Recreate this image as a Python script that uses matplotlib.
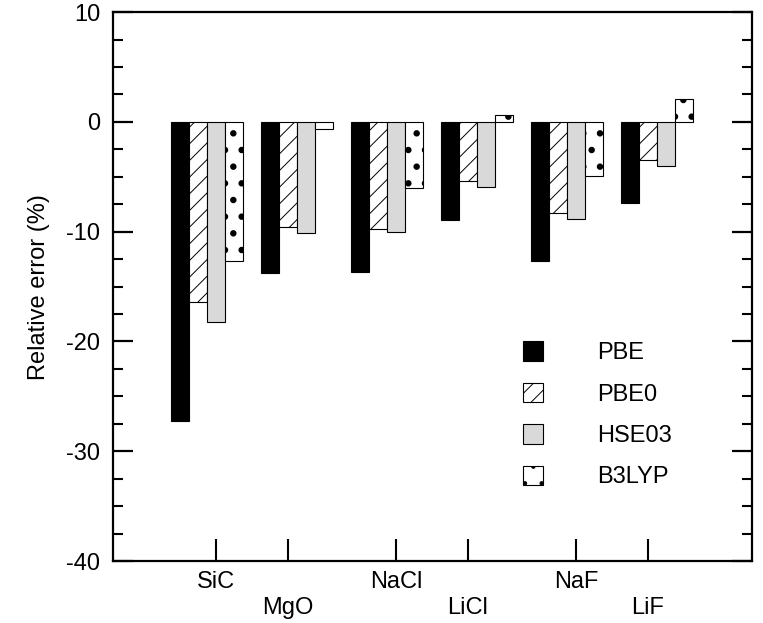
import matplotlib.pyplot as plt
import numpy as np
from matplotlib.ticker import MultipleLocator, FixedLocator, FixedFormatter

plt.rcParams['font.family'] = ['Liberation Sans', 'DejaVu Sans']
plt.rcParams['hatch.linewidth'] = 0.7

# data (relative error, %)
compounds = ["SiC", "MgO", "NaCl", "LiCl", "NaF", "LiF"]
methods = ["PBE", "PBE0", "HSE03", "B3LYP"]
pbe = [-27.2, -13.8, -13.7, -8.9, -12.7, -7.4]
pbe0 = [-16.4, -9.6, -9.8, -5.4, -8.3, -3.5]
hse03 = [-18.2, -10.1, -10.0, -5.9, -8.8, -4.0]
b3lyp = [-12.7, -0.6, -6.0, 0.6, -4.9, 2.1]

# label rows (staggered tick labels)
top_labels = ["SiC", "NaCl", "NaF"]
bottom_labels = ["MgO", "LiCl", "LiF"]
top_ticks = [0.1, 2.1, 4.1]
bottom_ticks = [0.9, 2.9, 4.9]

fs = 17

fig = plt.figure(figsize=(7.63, 6.23), dpi=100)
ax = fig.add_axes([0.148, 0.0995, 0.8375, 0.881])

x = np.arange(len(compounds))
w = 0.2
styles = [
    dict(color="black", edgecolor="black"),
    dict(color="white", edgecolor="black", hatch="//"),
    dict(color="#d9d9d9", edgecolor="black"),
    dict(color="white", edgecolor="black", hatch="."),
]
series = [pbe, pbe0, hse03, b3lyp]
for i, (vals, st, name) in enumerate(zip(series, styles, methods)):
    bars = ax.bar(x - 0.3 + i * w, vals, w, linewidth=0.8, label=name, **st)
    if name == "B3LYP":
        for b in bars:
            if hasattr(b, "set_hatch_linewidth"):
                b.set_hatch_linewidth(2.2)

ax.set_xlim(-1.044, 6.056)
ax.set_ylim(-40, 10)
ax.yaxis.set_minor_locator(MultipleLocator(2.5))
ax.set_yticks([-40, -30, -20, -10, 0, 10])
ax.set_yticklabels(["-40", "-30", "-20", "-10", "0", "10"])

ax.xaxis.set_major_locator(FixedLocator(top_ticks))
ax.xaxis.set_major_formatter(FixedFormatter(top_labels))
ax.xaxis.set_minor_locator(FixedLocator(bottom_ticks))
ax.xaxis.set_minor_formatter(FixedFormatter(bottom_labels))

ax.tick_params(axis="y", which="major", direction="in", length=14.4, width=1.6,
               right=True, labelsize=fs, pad=9)
ax.tick_params(axis="y", which="minor", direction="in", length=7.2, width=1.5, right=True)
ax.tick_params(axis="x", which="major", direction="in", length=15.5, width=1.5,
               labelsize=fs, pad=7)
ax.tick_params(axis="x", which="minor", direction="in", length=15.5, width=1.5,
               labelsize=fs, pad=26)

for sp in ax.spines.values():
    sp.set_linewidth(1.6)

ax.set_ylabel("Relative error (%)", fontsize=fs)
ax.yaxis.set_label_coords(-0.099, 0.5)

leg = ax.legend(loc="upper left", bbox_to_anchor=(0.642, 0.40), frameon=False,
                fontsize=fs, handlelength=0.85, handleheight=0.9, handletextpad=2.3,
                labelspacing=0.78, borderpad=0, borderaxespad=0)
for h in leg.legend_handles:
    if h.get_label() == "B3LYP" and hasattr(h, "set_hatch_linewidth"):
        h.set_hatch_linewidth(2.2)

fig.savefig("out.png", dpi=100)
